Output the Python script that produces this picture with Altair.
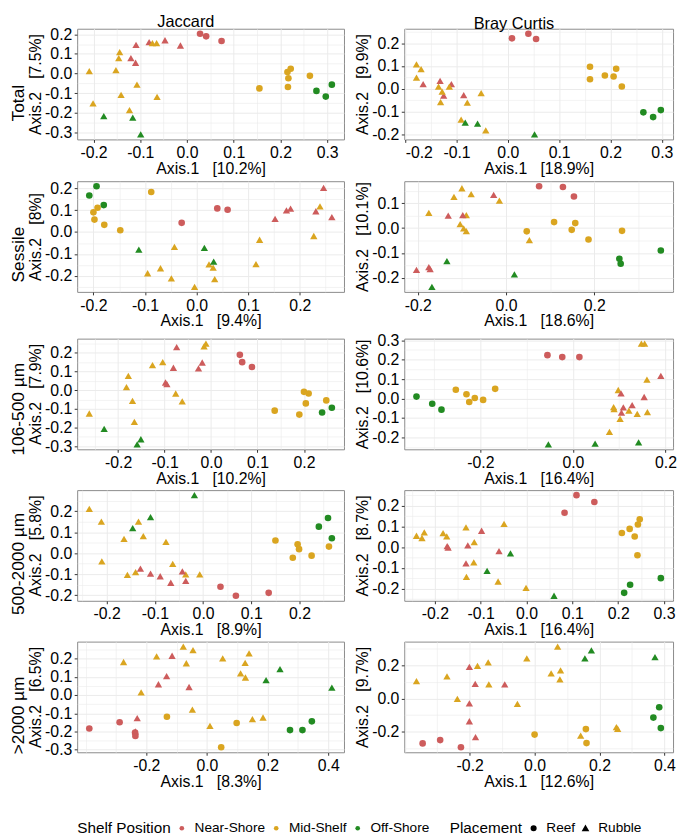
import altair as alt
import pandas as pd

FONT = "Liberation Sans"
NB3 = "\u00a0\u00a0\u00a0"

SHELF_NAMES = ["Near-Shore", "Mid-Shelf", "Off-Shore"]
SHELF_CODES = {"N": "Near-Shore", "M": "Mid-Shelf", "O": "Off-Shore"}
SHELF_COLORS = ["#CD5C5C", "#DAA520", "#228B22"]
PLACEMENT_NAMES = ["Reef", "Rubble"]
PLACEMENT_CODES = {"R": "Reef", "B": "Rubble"}
PLACEMENT_SHAPES = ["circle", "M0,-0.95L1.1,0.95L-1.1,0.95Z"]

ROW_LABELS = ["Total", "Sessile", "106-500 µm", "500-2000 µm", ">2000 µm"]
COL_LABELS = ["Jaccard", "Bray Curtis"]

# explained variance [%] : (Axis.1, Axis.2) per row, Jaccard / Bray Curtis
JAC_PCT = [("10.2%", "7.5%"), ("9.4%", "8%"), ("10.2%", "7.9%"), ("8.9%", "5.8%"), ("8.3%", "6.5%")]
BC_PCT = [("18.9%", "9.9%"), ("18.6%", "10.1%"), ("16.4%", "10.6%"), ("16.4%", "8.7%"), ("12.6%", "9.7%")]

# tick labels (x, y) per panel
JAC_XTICKS = [[-0.2, -0.1, 0.0, 0.1, 0.2, 0.3], [-0.2, -0.1, 0.0, 0.1, 0.2], [-0.2, -0.1, 0.0, 0.1, 0.2, 0.3],
              [-0.2, -0.1, 0.0, 0.1, 0.2], [-0.2, 0.0, 0.2, 0.4]]
JAC_YTICKS = [[-0.3, -0.2, -0.1, 0.0, 0.1, 0.2], [-0.2, -0.1, 0.0, 0.1, 0.2], [-0.3, -0.2, -0.1, 0.0, 0.1, 0.2],
              [-0.2, -0.1, 0.0, 0.1, 0.2], [-0.3, -0.2, -0.1, 0.0, 0.1, 0.2]]
BC_XTICKS = [[-0.2, -0.1, 0.0, 0.1, 0.2, 0.3], [-0.2, 0.0, 0.2], [-0.2, 0.0, 0.2],
             [-0.2, -0.1, 0.0, 0.1, 0.2, 0.3], [-0.2, 0.0, 0.2, 0.4]]
BC_YTICKS = [[-0.2, -0.1, 0.0, 0.1, 0.2], [-0.2, -0.1, 0.0, 0.1], [-0.2, -0.1, 0.0, 0.1, 0.2, 0.3],
             [-0.2, -0.1, 0.0, 0.1, 0.2], [-0.2, 0.0, 0.2]]

# group codes: first letter shelf (N/M/O), second placement (R = Reef, B = Rubble)
# ---- Total ----
TJ_X = [0.028, 0.041, 0.074, -0.081, -0.047, -0.014, -0.109, -0.120, -0.110,
        -0.074, -0.065, -0.144, -0.146, -0.209, -0.152, -0.107, -0.141, -0.064, -0.201, -0.123,
        0.155, 0.215, 0.222, 0.217, 0.216, 0.263, -0.178, -0.116, -0.099, 0.277, 0.297, 0.310]
TJ_Y = [0.203, 0.190, 0.166, 0.160, 0.170, 0.143, 0.146, 0.079, 0.055,
        0.155, 0.155, 0.109, 0.079, 0.012, 0.017, -0.057, -0.109, -0.119, -0.153, -0.187,
        -0.076, 0.008, 0.024, -0.024, -0.069, -0.012, -0.218, -0.225, -0.311, -0.089, -0.118, -0.057]
TJ_G = ("NR NR NR NB NB NB NB NB NB MB MB MB MB MB MB MB MB MB MB MB "
        "MR MR MR MR MR MR OB OB OB OR OR OR").split()

TB_X = [0.008, 0.040, 0.055, -0.165, -0.132, -0.110, -0.125, -0.086,
        -0.178, -0.169, -0.178, -0.135, -0.128, -0.114, -0.131, -0.079, -0.052, -0.091, -0.043,
        0.160, 0.160, 0.189, 0.211, 0.206, 0.222, -0.083, -0.059, 0.052, 0.264, 0.283, 0.298]
TB_Y = [0.222, 0.242, 0.219, 0.020, 0.035, 0.020, -0.030, -0.028,
        0.107, 0.086, 0.049, 0.009, -0.013, 0.009, -0.059, -0.061, -0.019, -0.136, -0.183,
        0.097, 0.042, 0.058, 0.088, 0.054, 0.010, -0.149, -0.154, -0.201, -0.104, -0.125, -0.094]
TB_G = ("NR NR NR NB NB NB NB NB MB MB MB MB MB MB MB MB MB MB MB "
        "MR MR MR MR MR MR OB OB OB OR OR OR").split()

# ---- Sessile ----
SJ_X = [-0.194, -0.208, -0.180, -0.088, -0.192, -0.200, -0.198, -0.179, -0.148,
        -0.029, 0.040, 0.060, 0.246, 0.152, 0.174, 0.182, 0.231, 0.262,
        0.239, 0.227, 0.122, 0.115, -0.043, -0.095, -0.070, -0.049, -0.004, 0.024, 0.032, 0.035,
        -0.112, 0.015, 0.033]
SJ_Y = [0.209, 0.167, 0.123, 0.183, 0.111, 0.090, 0.057, 0.033, 0.008,
        0.042, 0.108, 0.102, 0.202, 0.060, 0.099, 0.107, 0.095, 0.068,
        0.117, -0.018, -0.035, -0.146, -0.068, -0.188, -0.165, -0.211, -0.250, -0.147, -0.162, -0.215,
        -0.080, -0.072, -0.135]
SJ_G = ("OR OR OR MR MR MR MR MR MR NR NR NR NB NB NB NB NB NB "
        "MB MB MB MB MB MB MB MB MB MB MB MB OB OB OB").split()

SB_X = [0.075, 0.129, 0.154, -0.100, -0.118, -0.079, -0.015, -0.175, -0.090, -0.104, -0.096, -0.090, 0.053,
        -0.028, -0.131, -0.098, -0.203, -0.175, -0.172,
        0.047, 0.109, 0.149, 0.157, 0.187, 0.263, -0.134, 0.019, -0.168, 0.257, 0.260, 0.351]
SB_Y = [0.168, 0.165, 0.127, 0.160, 0.125, 0.136, 0.110, 0.061, 0.052, 0.016, -0.001, -0.012, -0.048,
        0.133, 0.050, 0.052, -0.168, -0.157, -0.165,
        -0.013, 0.024, -0.007, 0.020, -0.046, -0.011, -0.133, -0.186, -0.236, -0.123, -0.143, -0.090]
SB_G = ("NR NR NR MB MB MB MB MB MB MB MB MB MB NB NB NB NB NB NB "
        "MR MR MR MR MR MR OB OB OB OR OR OR").split()

# ---- 106-500 µm ----
MJ_X = [-0.262, -0.178, -0.182, -0.169, -0.165, -0.126, -0.104, -0.076, -0.062, -0.015, -0.011,
        -0.074, -0.081, -0.098, -0.095, -0.019, -0.027, 0.062, 0.067, 0.088,
        0.137, 0.190, 0.200, 0.210, 0.204, 0.248, 0.239, 0.260, -0.230, -0.151, -0.159]
MJ_Y = [-0.125, 0.076, 0.016, -0.057, -0.170, 0.134, 0.150, -0.018, -0.060, 0.235, 0.249,
        0.231, 0.120, 0.041, 0.032, 0.148, 0.117, 0.189, 0.150, 0.124,
        -0.110, -0.131, -0.009, -0.018, -0.071, -0.055, -0.120, -0.094, -0.207, -0.263, -0.290]
MJ_G = ("MB MB MB MB MB MB MB MB MB MB MB NB NB NB NB NB NB NR NR NR "
        "MR MR MR MR MR MR OR OR OB OB OB").split()

MB_X = [-0.338, -0.304, -0.284, -0.253, -0.230, -0.224, -0.212, -0.194, -0.168, -0.055, -0.023, 0.014,
        0.148, 0.155, 0.160, 0.098, 0.088, 0.089, 0.102, 0.121, 0.139, 0.161, 0.079,
        0.190, 0.104, 0.154, 0.109, 0.128, 0.105, -0.053, 0.048, 0.142]
MB_Y = [0.010, -0.027, -0.057, 0.045, 0.022, -0.018, 0.003, -0.007, 0.050, 0.223, 0.213, 0.213,
        0.282, 0.282, 0.097, 0.044, -0.044, -0.054, -0.104, -0.062, -0.079, -0.070, -0.171,
        0.117, 0.027, 0.008, -0.045, -0.034, -0.072, -0.235, -0.232, -0.225]
MB_G = ("OR OR OR MR MR MR MR MR MR NR NR NR MB MB MB MB MB MB MB MB MB MB MB "
        "NB NB NB NB NB NB OB OB OB").split()

# ---- 500-2000 µm ----
LJ_X = [-0.018, -0.109, -0.146, -0.236, -0.211, -0.134, -0.124, -0.164, -0.077, -0.210, -0.063, -0.157,
        -0.140, -0.036, -0.007, -0.130, -0.109, -0.089, -0.067, -0.043, -0.036,
        0.036, 0.068, 0.136, 0.150, 0.186, 0.196, 0.199, 0.225, 0.261, 0.240, 0.259, 0.267]
LJ_Y = [0.276, 0.171, 0.119, 0.211, 0.150, 0.150, 0.081, 0.068, 0.054, -0.039, -0.051, -0.104,
        -0.090, -0.101, -0.101, -0.074, -0.098, -0.110, -0.141, -0.087, -0.132,
        -0.160, -0.203, -0.189, 0.060, -0.022, 0.042, 0.019, -0.012, 0.031, 0.126, 0.167, 0.071]
LJ_G = ("OB OB OB MB MB MB MB MB MB MB MB MB MB MB MB NB NB NB NB NB NB "
        "NR NR NR MR MR MR MR MR MR OR OR OR").split()

LB_X = [0.083, 0.109, 0.148, 0.208, 0.225, 0.236, 0.243, 0.247, 0.242, 0.293, 0.226, 0.213,
        -0.240, -0.223, -0.228, -0.182, -0.174, -0.132, -0.114, -0.049, -0.115, -0.131, -0.062, -0.001,
        -0.173, -0.171, -0.128, -0.098, -0.060, -0.132, -0.035, -0.086, 0.060]
LB_Y = [0.166, 0.251, 0.218, 0.068, 0.088, 0.051, 0.109, 0.134, -0.039, -0.150, -0.182, -0.221,
        0.055, 0.071, 0.044, 0.068, 0.052, 0.095, 0.024, 0.112, -0.074, -0.144, -0.166, -0.197,
        0.005, -0.002, 0.008, 0.079, -0.019, -0.079, -0.030, -0.115, -0.235]
LB_G = ("NR NR NR MR MR MR MR MR MR OR OR OR MB MB MB MB MB MB MB MB MB MB MB MB "
        "NB NB NB NB NB NB OB OB OB").split()

# ---- >2000 µm ----
GJ_X = [-0.388, -0.288, -0.237, -0.236, -0.230, -0.236, -0.160, -0.133, -0.115, -0.059,
        -0.275, -0.217, -0.166, -0.078, -0.046, -0.068, -0.048, 0.010, 0.052, 0.126, 0.139, 0.111, 0.127,
        0.150, 0.185, -0.132, 0.098, 0.047, 0.241, 0.195, 0.412, 0.274, 0.315, 0.346]
GJ_Y = [-0.183, -0.149, -0.205, -0.224, -0.126, -0.199, 0.059, 0.103, 0.215, 0.044,
        0.181, 0.014, 0.212, 0.265, 0.246, 0.174, -0.080, -0.169, 0.201, 0.176, 0.228, 0.119, 0.096,
        -0.132, -0.123, -0.119, -0.153, -0.286, 0.142, 0.082, 0.041, -0.192, -0.192, -0.144]
GJ_G = ("NR NR NR NR NB NB NB NB NB NB MB MB MB MB MB MB MB MB MB MB MB MB MB MB MB "
        "MR MR MR OB OB OB OR OR OR").split()

GB_X = [-0.345, -0.291, -0.227, -0.201, -0.183, -0.092, -0.201, -0.201, -0.182,
        -0.364, -0.270, -0.238, -0.176, -0.143, -0.141, -0.053, -0.024, 0.051, 0.071, 0.080, 0.078,
        0.142, 0.252, 0.256, 0.000, 0.158, 0.160, 0.155, 0.175, 0.371, 0.384, 0.366, 0.389]
GB_Y = [-0.270, -0.250, -0.293, 0.189, 0.088, 0.084, -0.029, -0.137, -0.232,
        0.104, 0.133, -0.002, 0.195, 0.217, 0.084, -0.033, 0.240, 0.150, 0.311, 0.168, 0.115,
        -0.223, -0.172, -0.182, -0.217, -0.184, -0.268, 0.240, 0.289, 0.248, -0.053, -0.115, -0.178]
GB_G = ("NR NR NR NB NB NB NB NB NB MB MB MB MB MB MB MB MB MB MB MB MB MB MB MB "
        "MR MR MR OB OB OB OR OR OR").split()

JAC_DATA = [(TJ_X, TJ_Y, TJ_G), (SJ_X, SJ_Y, SJ_G), (MJ_X, MJ_Y, MJ_G), (LJ_X, LJ_Y, LJ_G), (GJ_X, GJ_Y, GJ_G)]
BC_DATA = [(TB_X, TB_Y, TB_G), (SB_X, SB_Y, SB_G), (MB_X, MB_Y, MB_G), (LB_X, LB_Y, LB_G), (GB_X, GB_Y, GB_G)]

LEFT_W, RIGHT_W, PANEL_H = 270, 272, 112


def expand(vals):
    lo, hi = min(vals), max(vals)
    pad = 0.05 * (hi - lo)
    return [lo - pad, hi + pad]


def grid_values(majors, dom):
    half = (majors[1] - majors[0]) / 2
    v = majors[0]
    while v - half >= dom[0]:
        v -= half
    out = []
    while v <= dom[1] + 1e-9:
        out.append(round(v, 4))
        v += half
    return out


def make_axis(majors, dom, title):
    maj = [int(round(m * 100)) for m in majors]
    test = f"indexof({maj}, round(datum.value*100)) >= 0"
    return alt.Axis(
        values=grid_values(majors, dom),
        labelExpr=f"{test} ? replace(format(datum.value, '.1f'), '\u2212', '-') : ''",
        title=title,
        grid=True,
        gridColor="#EBEBEB",
        gridWidth={"condition": {"test": test, "value": 1.0}, "value": 0.6},
        tickOpacity={"condition": {"test": test, "value": 1}, "value": 0},
    )


COLOR_LEGEND = alt.Legend(title="Shelf Position", orient="none", legendX=0, legendY=802,
                          direction="horizontal", titleOrient="left", symbolType="circle")
SHAPE_LEGEND = alt.Legend(title="Placement", orient="none", legendX=377, legendY=802,
                          direction="horizontal", titleOrient="left",
                          symbolFillColor="black", symbolStrokeColor="black")


def panel(data, xmaj, ymaj, pct, width, title):
    xs, ys, gs = data
    df = pd.DataFrame({
        "x": xs, "y": ys,
        "shelf": [SHELF_CODES[g[0]] for g in gs],
        "place": [PLACEMENT_CODES[g[1]] for g in gs],
    })
    xd, yd = expand(xs), expand(ys)
    ch = alt.Chart(df).mark_point(filled=True, opacity=1, size=45).encode(
        x=alt.X("x:Q", scale=alt.Scale(domain=xd, nice=False, zero=False),
                axis=make_axis(xmaj, xd, f"Axis.1{NB3}[{pct[0]}]")),
        y=alt.Y("y:Q", scale=alt.Scale(domain=yd, nice=False, zero=False),
                axis=make_axis(ymaj, yd, f"Axis.2{NB3}[{pct[1]}]")),
        color=alt.Color("shelf:N", scale=alt.Scale(domain=SHELF_NAMES, range=SHELF_COLORS), legend=COLOR_LEGEND),
        shape=alt.Shape("place:N", scale=alt.Scale(domain=PLACEMENT_NAMES, range=PLACEMENT_SHAPES),
                        legend=SHAPE_LEGEND),
    ).properties(width=width, height=PANEL_H)
    if title:
        ch = ch.properties(title=alt.TitleParams(title, frame="bounds", anchor="middle", fontSize=16.5,
                                                 font=FONT, fontWeight="normal", offset=-4, color="black"))
    else:
        # invisible spacer title: keeps the top extent of every row identical
        ch = ch.properties(title=alt.TitleParams(" ", fontSize=8, offset=0, anchor="start"))
    return ch


rows = []
for i, lab in enumerate(ROW_LABELS):
    left = panel(JAC_DATA[i], JAC_XTICKS[i], JAC_YTICKS[i], JAC_PCT[i], LEFT_W,
                 COL_LABELS[0] if i == 0 else None)
    right = panel(BC_DATA[i], BC_XTICKS[i], BC_YTICKS[i], BC_PCT[i], RIGHT_W,
                  COL_LABELS[1] if i == 0 else None)
    row = alt.hconcat(left, right, spacing=61, bounds="flush").resolve_scale(
        x="independent", y="independent", color="shared", shape="shared"
    ).properties(title=alt.TitleParams(lab, orient="left", anchor="middle", fontSize=17.5, font=FONT,
                                       fontWeight="normal", offset=0, color="black",
                                       dx=-8 if i == 0 else -4))
    rows.append(row)

chart = alt.vconcat(*rows, spacing=-5.7).resolve_scale(
    x="independent", y="independent", color="shared", shape="shared"
).resolve_legend(color="shared", shape="shared").properties(
    padding={"left": 2, "top": 0, "right": 0, "bottom": 0}
).configure_view(
    stroke="#8A8A8A", strokeWidth=1
).configure_axis(
    labelFont=FONT, labelFontSize=16, labelColor="black",
    titleFont=FONT, titleFontSize=16, titleFontWeight="normal", titleColor="black",
    domain=False, tickColor="#333333", tickSize=3, labelPadding=2.4,
).configure_axisX(
    titlePadding=0
).configure_axisY(
    titlePadding=1
).configure_legend(
    labelFont=FONT, labelFontSize=13.8, labelColor="black",
    titleFont=FONT, titleFontSize=15.5, titleFontWeight="normal", titleColor="black",
    symbolSize=22, columnPadding=3.5, labelOffset=6, titlePadding=4,
)

chart.save("out.html", embed_options={"renderer": "svg", "actions": False})
